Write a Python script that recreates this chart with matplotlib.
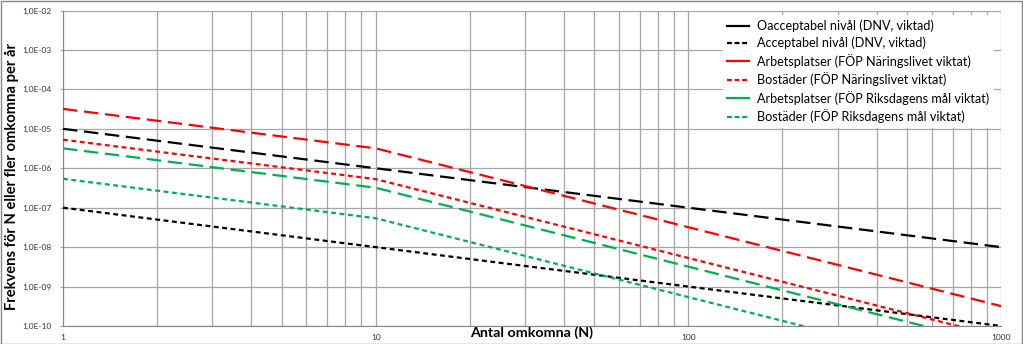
import math
import matplotlib.pyplot as plt
from matplotlib.lines import Line2D
from matplotlib.ticker import FixedLocator, FuncFormatter, NullFormatter
from matplotlib.patches import Rectangle

plt.rcParams['font.family'] = ['Lato', 'DejaVu Sans']

# antal omkomna (N)
n_values = [1, 10, 100, 1000]

# frekvens för N eller fler omkomna per år
oacceptabel_dnv = [1e-5, 1e-6, 1e-7, 1e-8]
acceptabel_dnv = [1e-7, 1e-8, 1e-9, 1e-10]
arbetsplatser_naring = [3.2e-5, 3.2e-6, 3.2e-8, 3.2e-10]
bostader_naring = [5.3e-6, 5.3e-7, 5.3e-9, 5.3e-11]
arbetsplatser_riksdag = [3.2e-6, 3.2e-7, 3.2e-9, 3.2e-11]
bostader_riksdag = [5.4e-7, 5.4e-8, 5.4e-10, 5.4e-12]

labels = [
    "Oacceptabel nivål (DNV, viktad)",
    "Acceptabel nivål (DNV, viktad)",
    "Arbetsplatser (FÖP Näringslivet viktat)",
    "Bostäder (FÖP Näringslivet viktat)",
    "Arbetsplatser (FÖP Riksdagens mål viktat)",
    "Bostäder (FÖP Riksdagens mål viktat)",
]
series = [oacceptabel_dnv, acceptabel_dnv, arbetsplatser_naring,
          bostader_naring, arbetsplatser_riksdag, bostader_riksdag]
colors = ['black', 'black', '#ff0000', '#ff0000', '#00b050', '#00b050']
long_dash = (0, (6.5, 3.0))
short_dash = (0, (2.2, 1.6))
styles = [long_dash, short_dash] * 3

fig = plt.figure(figsize=(10.23, 3.44), dpi=100)
ax = fig.add_axes([63 / 1023, 1 - 326 / 344, (1001 - 63) / 1023, (326 - 10.5) / 344])

grid_col = '#a6a6a6'
for y, c, ls in zip(series, colors, styles):
    ax.plot(n_values, y, color=c, linestyle=ls, linewidth=1.6, zorder=3)

ax.set_xscale('log')
ax.set_yscale('log')
ax.set_xlim(1, 1000)
ax.set_ylim(1e-10, 1e-2)

ax.yaxis.set_major_locator(FixedLocator([10.0 ** e for e in range(-10, -1)]))
ax.yaxis.set_minor_locator(FixedLocator([]))
ax.yaxis.set_minor_formatter(NullFormatter())
ax.yaxis.set_major_formatter(FuncFormatter(lambda v, p: "1,0E-%02d" % round(-math.log10(v))))
ax.xaxis.set_major_locator(FixedLocator([1, 10, 100, 1000]))
ax.xaxis.set_major_formatter(FuncFormatter(lambda v, p: "%d" % round(v)))
ax.xaxis.set_minor_locator(FixedLocator([m * 10 ** d for d in range(3) for m in range(2, 10)]))
ax.xaxis.set_minor_formatter(NullFormatter())

ax.grid(True, which='major', color=grid_col, linewidth=0.9)
ax.grid(True, which='minor', axis='x', color=grid_col, linewidth=0.9)
ax.tick_params(axis='x', which='both', length=0, labelsize=6, labelcolor='#333333', pad=6)
ax.tick_params(axis='y', length=2.5, width=0.9, color=grid_col, labelsize=6,
               labelcolor='#333333', pad=6)
for s in ax.spines.values():
    s.set_visible(False)
ax.spines['left'].set_visible(True)
ax.spines['left'].set_color('#868686')
ax.spines['bottom'].set_visible(True)
ax.spines['bottom'].set_color('#868686')

fig.text(12 / 1023, 1 - 177 / 344, "Frekvens för N eller fler omkomna per år",
         rotation=90, ha='center', va='center', fontsize=10.6, fontweight='bold')
fig.text(532 / 1023, 1 - 333 / 344, "Antal omkomna (N)",
         ha='center', va='center', fontsize=10.3, fontweight='bold')

handles = [
    Line2D([], [], color='black', linestyle='-', linewidth=1.6),
    Line2D([], [], color='black', linestyle=(0, (2.2, 1.2)), linewidth=1.6),
    Line2D([], [], color='#ff0000', linestyle='-', linewidth=1.6),
    Line2D([], [], color='#ff0000', linestyle=(0, (2.2, 1.2)), linewidth=1.6),
    Line2D([], [], color='#00b050', linestyle='-', linewidth=1.6),
    Line2D([], [], color='#00b050', linestyle=(0, (2.2, 1.2)), linewidth=1.6),
]
leg = ax.legend(handles, labels, loc='upper left',
                bbox_to_anchor=((723 - 63) / 938, (326 - 15) / 315.5),
                borderaxespad=0, fontsize=9.1, frameon=True, fancybox=False,
                handlelength=1.67, handletextpad=0.7, labelspacing=0.36,
                borderpad=0.35)
leg.get_frame().set_edgecolor('none')
leg.get_frame().set_facecolor('white')
leg.get_frame().set_alpha(1)

# ram runt diagrammet
fig.patches.append(Rectangle((0.5 / 1023, 0.5 / 344), 1 - 1.5 / 1023, 1 - 1.5 / 344,
                             transform=fig.transFigure, fill=False,
                             edgecolor='#868686', linewidth=1.0))

fig.savefig('out.png', dpi=100)
